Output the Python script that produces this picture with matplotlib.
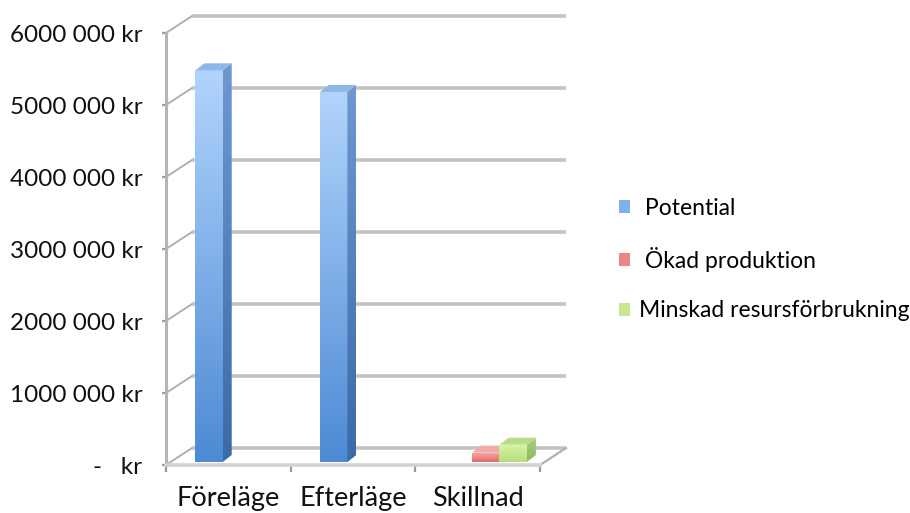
import numpy as np
import matplotlib
matplotlib.use('Agg')
import matplotlib.pyplot as plt
from matplotlib.patches import Polygon, Rectangle
from matplotlib.colors import LinearSegmentedColormap

plt.rcParams['font.family'] = ['Lato', 'DejaVu Sans']

categories = ['Föreläge', 'Efterläge', 'Skillnad']
legend_labels = [' Potential', ' Ökad produktion', 'Minskad resursförbrukning']
potential = [5440000, 5140000, 0]
okad_produktion = [0, 0, 130000]
minskad_resurs = [0, 0, 240000]
ytick_values = [0, 1000000, 2000000, 3000000, 4000000, 5000000, 6000000]
ytick_labels = ['-   kr', '1000 000 kr', '2000 000 kr', '3000 000 kr',
                '4000 000 kr', '5000 000 kr', '6000 000 kr']

W, H = 910, 513
fig = plt.figure(figsize=(W / 100, H / 100), dpi=100)
ax = fig.add_axes([166 / W, 48 / H, 374 / W, 432 / H])
XMIN, XMAX, YMAX = -0.5, 2.5, 6000000
ax.set_xlim(XMIN, XMAX)
ax.set_ylim(0, YMAX)

# depth offsets (data units)
px_x = (XMAX - XMIN) / 374.0
px_y = YMAX / 432.0
dxw, dyw = 26 * px_x, 17 * px_y      # wall depth
dxb, dyb = 9 * px_x, 7 * px_y        # bar depth
b0 = 3 * px_y                         # bar base lift

grid_c = '#c4c4c4'
diag_c = '#b0b0b0'
for v in ytick_values:
    ax.plot([XMIN, XMIN + dxw], [v, v + dyw], color=diag_c, lw=1.4, clip_on=False, zorder=1)
    ax.plot([XMIN + dxw, XMAX + dxw], [v + dyw, v + dyw], color=grid_c, lw=2.6,
            clip_on=False, zorder=1, solid_capstyle='butt')
ax.plot([XMAX, XMAX + dxw], [0, dyw], color=diag_c, lw=1.6, clip_on=False, zorder=1)

for s in ['top', 'right']:
    ax.spines[s].set_visible(False)
ax.spines['left'].set_color('#b5b5b5')
ax.spines['left'].set_linewidth(2.2)
ax.spines['bottom'].set_color('#d2d2d2')
ax.spines['bottom'].set_linewidth(2.6)

ax.set_yticks(ytick_values, ytick_labels)
ax.tick_params(axis='y', length=3, width=1.6, color='#9a9a9a', pad=14, labelsize=17.5,
               labelcolor='#111111')
ax.set_xticks(range(len(categories)), categories)
ax.tick_params(axis='x', which='major', length=0, pad=15, labelsize=19.5, labelcolor='#111111')
ax.set_xticks([-0.5, 0.5, 1.5, 2.5], minor=True)
ax.tick_params(axis='x', which='minor', length=5, width=1.6, color='#9a9a9a')


def cmap2(c1, c2):
    return LinearSegmentedColormap.from_list('g', [c2, c1])


styles = [
    dict(front=('#b2d4fc', '#4d8ad4'), side=('#6f98cf', '#3a6aa8'), top='#8fb6e8'),
    dict(front=('#f6a9a9', '#e26a6a'), side=('#d88a8a', '#c46060'), top='#eeaaaa'),
    dict(front=('#d6f5a4', '#b5df7c'), side=('#a8cc78', '#93b862'), top='#b9db8a'),
]
offsets = [-0.155, 0.065, 0.285]
width = 0.22
grad = np.linspace(0, 1, 256).reshape(-1, 1)

all_series = [potential, okad_produktion, minskad_resurs]
for si, vals in enumerate(all_series):
    st = styles[si]
    for ci, v in enumerate(vals):
        if v <= 0:
            continue
        x0 = ci + offsets[si] - width / 2
        x1 = x0 + width
        y0, y1 = b0, b0 + v
        bars = ax.bar([ci + offsets[si]], [v], width=width, bottom=b0,
                      color='none', edgecolor='none', zorder=3)
        rect = bars[0]
        im = ax.imshow(grad, extent=[x0, x1, y0, y1], origin='lower', aspect='auto',
                       cmap=cmap2(*st['front']), zorder=3, interpolation='bilinear')
        im.set_clip_path(rect)
        side = Polygon([(x1, y0), (x1 + dxb, y0 + dyb), (x1 + dxb, y1 + dyb), (x1, y1)],
                       closed=True, facecolor='none', edgecolor='none', zorder=3)
        ax.add_patch(side)
        im2 = ax.imshow(grad, extent=[x1, x1 + dxb, y0, y1 + dyb], origin='lower',
                        aspect='auto', cmap=cmap2(*st['side']), zorder=3,
                        interpolation='bilinear')
        im2.set_clip_path(side)
        top = Polygon([(x0, y1), (x0 + dxb, y1 + dyb), (x1 + dxb, y1 + dyb), (x1, y1)],
                      closed=True, facecolor=st['top'], edgecolor='none', zorder=3)
        ax.add_patch(top)

ax.set_xlim(XMIN, XMAX)
ax.set_ylim(0, YMAX)

handles = [Rectangle((0, 0), 1, 1, facecolor=c) for c in ['#7fb0ec', '#ec8585', '#c6e890']]
fig.legend(handles, legend_labels, loc='center left', bbox_to_anchor=(619 / W, 1 - 259.5 / H),
           frameon=False, fontsize=16.5, handlelength=0.48, handleheight=0.48,
           handletextpad=0.4, labelspacing=1.24, borderpad=0, borderaxespad=0)

fig.savefig('out.png', dpi=100)
